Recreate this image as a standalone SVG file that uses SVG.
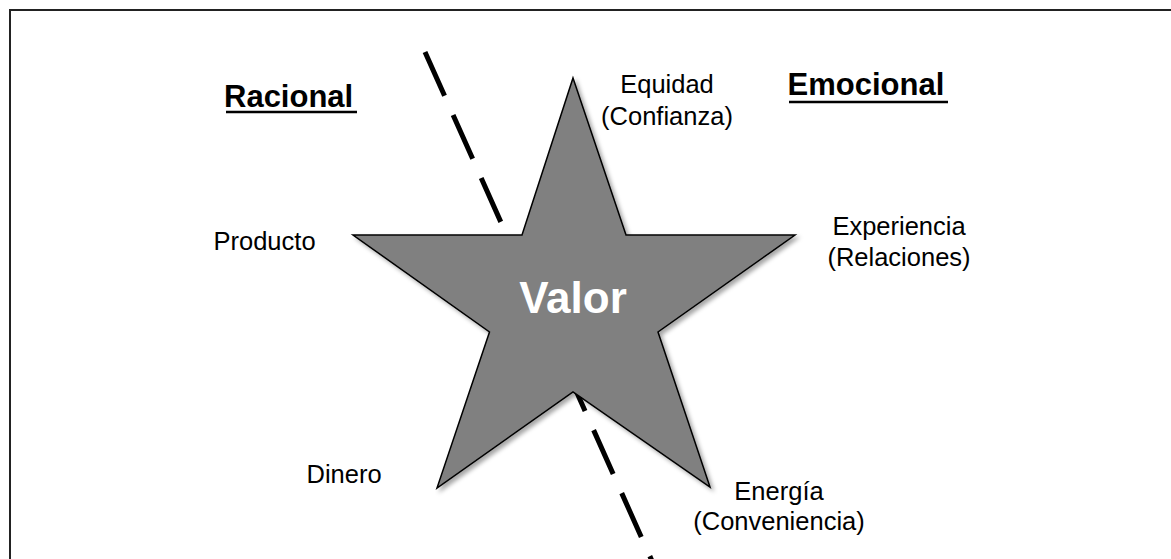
<svg xmlns="http://www.w3.org/2000/svg" width="1171" height="559" viewBox="0 0 1171 559">
  <style>
    .label { font-family: "Liberation Sans", Arial, sans-serif; font-size: 25.5px; fill: #000; }
    .mid { text-anchor: middle; }
    .heading { font-family: "Liberation Sans", Arial, sans-serif; font-size: 31px; font-weight: bold; fill: #000; }
    .rule { stroke: #000; stroke-width: 2.5; }
    .divider { fill: none; stroke: #000; stroke-width: 5; stroke-dasharray: 48 21; }
    .star { fill: #808080; stroke: #000; stroke-width: 1.5; stroke-linejoin: miter; }
    .center { font-family: "Liberation Sans", Arial, sans-serif; font-size: 44px; font-weight: bold; fill: #fff; text-anchor: middle; }
  </style>
  <defs>
    <filter id="soft-shadow" x="-10%" y="-10%" width="120%" height="120%">
      <feDropShadow dx="3" dy="3" stdDeviation="2" flood-color="#000" flood-opacity="0.35"/>
    </filter>
  </defs>

  <rect width="1171" height="559" fill="#fff"/>

  <!-- frame: only the top and left edges fall inside the canvas -->
  <path d="M10,580 L10,10 L1190,10" fill="none" stroke="#222" stroke-width="2"/>

  <!-- dashed divider between the rational and emotional sides -->
  <g id="connectors">
    <line class="divider" x1="425" y1="52" x2="656" y2="570"/>
  </g>

  <!-- headings -->
  <g id="heading-racional">
    <text class="heading" x="224" y="106.5">Racional</text>
    <line class="rule" x1="226" y1="112" x2="357" y2="112"/>
  </g>
  <g id="heading-emocional">
    <text class="heading" x="787.5" y="95">Emocional</text>
    <line class="rule" x1="789" y1="102" x2="948" y2="102"/>
  </g>

  <!-- central star -->
  <g id="valor">
    <polygon class="star" filter="url(#soft-shadow)"
      points="573,78 626,235 795,235 658,332 710,487 573,392 437,488 489.5,332 353,235 522,235"/>
    <text class="center" x="573" y="313">Valor</text>
  </g>

  <!-- point labels -->
  <g id="equidad">
    <text class="label mid" x="667" y="93">Equidad</text>
    <text class="label mid" x="667" y="125">(Confianza)</text>
  </g>
  <g id="producto">
    <text class="label" x="213.5" y="250">Producto</text>
  </g>
  <g id="experiencia">
    <text class="label mid" x="899" y="235">Experiencia</text>
    <text class="label mid" x="899" y="266">(Relaciones)</text>
  </g>
  <g id="dinero">
    <text class="label" x="306.5" y="483">Dinero</text>
  </g>
  <g id="energia">
    <text class="label mid" x="779" y="500">Energía</text>
    <text class="label mid" x="779" y="530">(Conveniencia)</text>
  </g>
</svg>
